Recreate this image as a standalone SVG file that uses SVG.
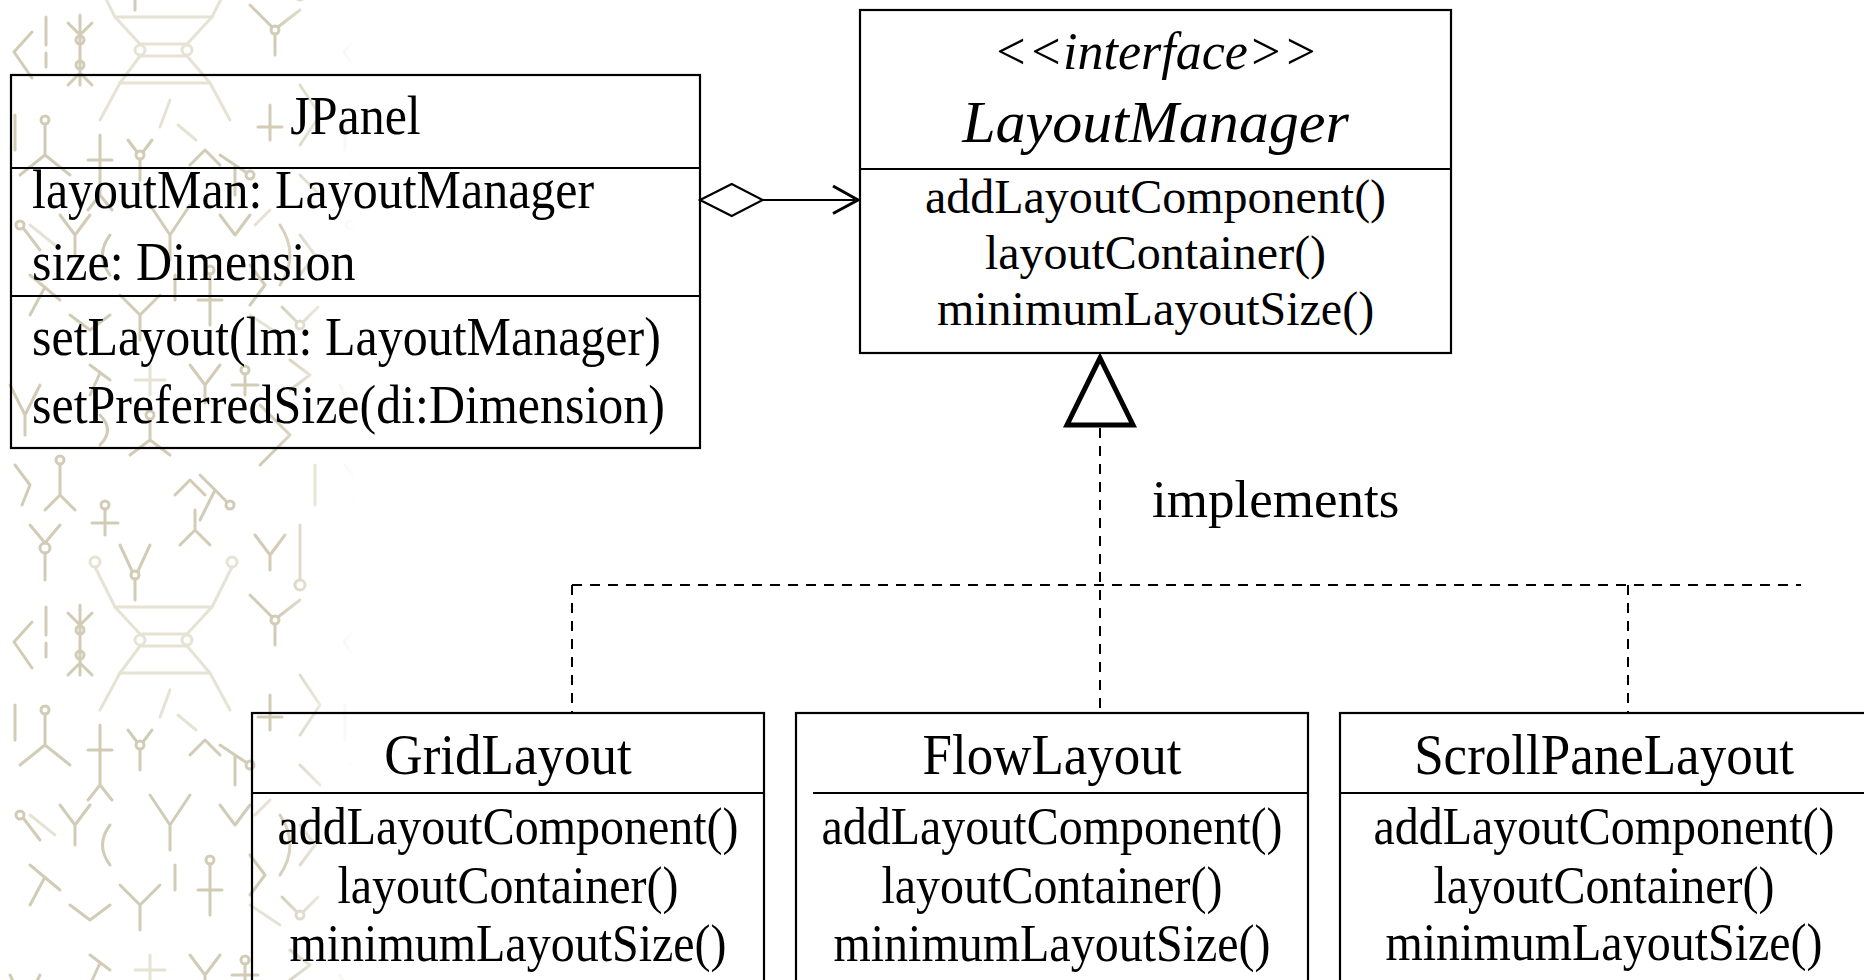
<svg xmlns="http://www.w3.org/2000/svg" width="1864" height="980" viewBox="0 0 1864 980">
<style>
.box{fill:none;stroke:#000;stroke-width:2.2}
.ln{stroke:#000;stroke-width:2.2;fill:none}
.t{font-family:"Liberation Serif","Times New Roman",serif;fill:#000}
.a{font-size:50px}
.m{font-size:48px;text-anchor:middle}
.h{font-size:53px;text-anchor:middle}
.dash{stroke:#000;stroke-width:2;fill:none;stroke-dasharray:10 8}
.d{stroke:#d2ccb6;stroke-width:3;fill:none;stroke-linecap:round;stroke-linejoin:round}
.l{stroke:#e6e2d4;stroke-width:3;fill:none;stroke-linecap:round;stroke-linejoin:round}
</style>
<defs>
<pattern id="deco" x="0" y="345" width="330" height="590" patternUnits="userSpaceOnUse">
<g class="l">
<path d="M115 262 L212 262 M120 328 L210 328 M115 262 L140 289 M212 262 L187 289 M140 301 L120 328 M187 301 L210 328 M140 289 L187 289 M140 301 L187 301"/>
<circle cx="140" cy="295" r="5"/><circle cx="187" cy="295" r="5"/>
<path d="M115 262 L95 222 M212 262 L232 222 M120 328 L100 365 M210 328 L230 365"/>
<circle cx="95" cy="217" r="5"/><circle cx="232" cy="217" r="5"/>
<path d="M150 20 L150 50 M135 35 L165 35 M250 560 L280 580 M30 470 L55 490"/>
<path d="M170 345 L160 372 M178 370 L196 385 M255 470 L270 455"/>
</g>
<g class="d">
<path d="M32 277 L14 297 L32 323"/>
<path d="M46 262 L46 290 M46 298 L46 312"/>
<path d="M80 260 L80 330 M68 268 L80 280 L92 268 M68 330 L80 318 L92 330"/>
<circle cx="80" cy="285" r="4"/><circle cx="80" cy="310" r="4"/>
<circle cx="45" cy="203" r="5"/>
<path d="M45 208 L45 235 M45 198 L30 180 M45 198 L60 180"/>
<circle cx="60" cy="115" r="4"/>
<path d="M60 120 L60 150 L45 165 M60 150 L75 165"/>
<path d="M10 40 L25 70 L40 40 M25 70 L25 90"/>
<circle cx="150" cy="70" r="4"/>
<path d="M130 110 L150 95 L170 110 M150 95 L150 75"/>
<circle cx="230" cy="160" r="4"/>
<path d="M200 130 L227 157 M215 145 L200 175"/>
<path d="M260 60 L290 90 L260 120"/>
<circle cx="300" cy="240" r="5"/>
<path d="M300 180 L300 234"/>
<circle cx="275" cy="275" r="4"/>
<path d="M250 250 L272 272 M278 272 L300 255 M275 279 L275 300"/>
<circle cx="45" cy="365" r="4"/>
<path d="M20 420 L45 400 L70 420 M45 400 L45 369"/>
<path d="M100 380 L100 440 M88 405 L112 405 M100 440 L88 455 M100 440 L112 455"/>
<path d="M150 450 L170 480 L190 450 M170 480 L170 505"/>
<circle cx="250" cy="420" r="4"/>
<path d="M220 400 L247 418 M235 410 L235 440"/>
<path d="M280 470 Q300 500 280 530 M300 480 L315 500 L300 520"/>
<path d="M30 520 L60 545 M45 532 L30 560"/>
<path d="M120 540 L140 560 L160 540 M140 560 L140 585"/>
<circle cx="210" cy="515" r="4"/>
<path d="M210 519 L210 570 M198 545 L222 545"/>
<path d="M300 330 L320 360 L300 390"/>
<circle cx="135" cy="230" r="4"/>
<path d="M120 200 L132 226 M138 226 L150 200 M135 234 L135 255"/>
<path d="M180 200 L195 185 L210 200 M195 185 L195 165"/>
<path d="M190 20 L205 40 L220 20 M205 40 L205 58"/>
<circle cx="245" cy="25" r="4"/>
<path d="M245 29 L245 50 M232 40 L258 40"/>
<path d="M290 15 L310 30 L290 45"/>
<path d="M90 20 L110 35 M100 28 L90 50"/>
<path d="M100 70 Q115 85 100 100"/>
<path d="M15 120 L30 140 L22 160"/>
<circle cx="105" cy="160" r="4"/>
<path d="M105 164 L105 190 M92 178 L118 178"/>
<path d="M175 150 L190 135 L205 150"/>
<path d="M255 190 L270 210 L285 190 M270 210 L270 225"/>
<path d="M315 120 L315 160"/>
<path d="M15 360 L15 395"/>
<circle cx="140" cy="400" r="4"/>
<path d="M128 385 L137 397 M143 397 L152 385 M140 404 L140 425"/>
<path d="M190 410 L205 395 L220 410"/>
<path d="M270 350 L270 385 M258 372 L282 372"/>
<path d="M300 420 L320 440"/>
<circle cx="20" cy="470" r="4"/>
<path d="M24 474 L40 495 M60 460 L75 480 L90 460 M75 480 L75 500"/>
<path d="M110 480 Q95 500 110 520"/>
<path d="M220 460 L235 480 L250 460"/>
<path d="M70 560 L90 575 L110 560"/>
<path d="M175 520 L175 545"/>
<path d="M250 510 L265 530 L250 550"/>
<circle cx="300" cy="570" r="4"/>
<path d="M296 566 L282 552 M304 566 L318 552"/>
</g>
</pattern>
<linearGradient id="fade" x1="0" y1="0" x2="1" y2="0">
<stop offset="0" stop-color="#fff" stop-opacity="1"/>
<stop offset="0.78" stop-color="#fff" stop-opacity="1"/>
<stop offset="1" stop-color="#fff" stop-opacity="0"/>
</linearGradient>
<mask id="m1"><rect x="0" y="0" width="355" height="980" fill="url(#fade)"/></mask>
</defs>
<rect x="0" y="0" width="1864" height="980" fill="#fff"/>
<rect x="0" y="0" width="355" height="980" fill="url(#deco)" mask="url(#m1)"/>

<g id="JPanel">
<rect class="box" x="11" y="75" width="689" height="373"/>
<line class="ln" x1="11" y1="168" x2="700" y2="168"/>
<line class="ln" x1="11" y1="296" x2="700" y2="296"/>
<text class="t a" transform="translate(355.5,134) scale(1,1.1)" text-anchor="middle">JPanel</text>
<text class="t a" transform="translate(32,208) scale(1,1.1)">layoutMan: LayoutManager</text>
<text class="t a" transform="translate(32,280) scale(1,1.1)">size: Dimension</text>
<text class="t a" transform="translate(32,355) scale(1,1.1)">setLayout(lm: LayoutManager)</text>
<text class="t a" transform="translate(32,423) scale(1,1.1)">setPreferredSize(di:Dimension)</text>
</g>

<g id="LayoutManager">
<rect class="box" x="860" y="10" width="591" height="343" fill="#fff"/>
<line class="ln" x1="860" y1="169" x2="1451" y2="169"/>
<text class="t" x="1155.5" y="69" text-anchor="middle" font-size="52" font-style="italic">&lt;&lt;interface&gt;&gt;</text>
<text class="t" x="1155.5" y="142" text-anchor="middle" font-size="60" font-style="italic">LayoutManager</text>
<text class="t m" x="1155.5" y="213">addLayoutComponent()</text>
<text class="t m" x="1155.5" y="269">layoutContainer()</text>
<text class="t m" x="1155.5" y="325">minimumLayoutSize()</text>
</g>

<g id="GridLayout">
<rect class="box" x="252" y="713" width="512" height="290"/>
<line class="ln" x1="252" y1="793" x2="764" y2="793"/>
<text class="t h" transform="translate(508,774) scale(1,1.06)">GridLayout</text>
<text class="t m" transform="translate(508,844) scale(1,1.1)">addLayoutComponent()</text>
<text class="t m" transform="translate(508,903) scale(1,1.1)">layoutContainer()</text>
<text class="t m" transform="translate(508,961) scale(1,1.1)">minimumLayoutSize()</text>
</g>

<g id="FlowLayout">
<rect class="box" x="796" y="713" width="512" height="290"/>
<line class="ln" x1="813" y1="793" x2="1308" y2="793"/>
<text class="t h" transform="translate(1052,774) scale(1,1.06)">FlowLayout</text>
<text class="t m" transform="translate(1052,844) scale(1,1.1)">addLayoutComponent()</text>
<text class="t m" transform="translate(1052,903) scale(1,1.1)">layoutContainer()</text>
<text class="t m" transform="translate(1052,961) scale(1,1.1)">minimumLayoutSize()</text>
</g>

<g id="ScrollPaneLayout">
<rect class="box" x="1340" y="713" width="540" height="290"/>
<line class="ln" x1="1340" y1="793" x2="1870" y2="793"/>
<text class="t h" transform="translate(1604,774) scale(1,1.06)">ScrollPaneLayout</text>
<text class="t m" transform="translate(1604,844) scale(1,1.1)">addLayoutComponent()</text>
<text class="t m" transform="translate(1604,903) scale(1,1.1)">layoutContainer()</text>
<text class="t m" transform="translate(1604,960) scale(1,1.1)">minimumLayoutSize()</text>
</g>

<g id="connectors">
<polygon points="700,200 731.7,184 762.7,200 731.7,216" fill="#fff" stroke="#000" stroke-width="2.2"/>
<line class="ln" x1="762.7" y1="200" x2="858" y2="200"/>
<polyline points="833,186 858,200 833,213.5" fill="none" stroke="#000" stroke-width="3"/>
<polygon points="1100,358 1133,425 1067,425" fill="#fff" stroke="#000" stroke-width="5"/>
<line class="dash" x1="1100" y1="428" x2="1100" y2="713"/>
<line class="dash" x1="572" y1="585" x2="1801" y2="585"/>
<line class="dash" x1="572" y1="585" x2="572" y2="713"/>
<line class="dash" x1="1628" y1="585" x2="1628" y2="713"/>
<text class="t" x="1152" y="517" font-size="53">implements</text>
</g>
</svg>
